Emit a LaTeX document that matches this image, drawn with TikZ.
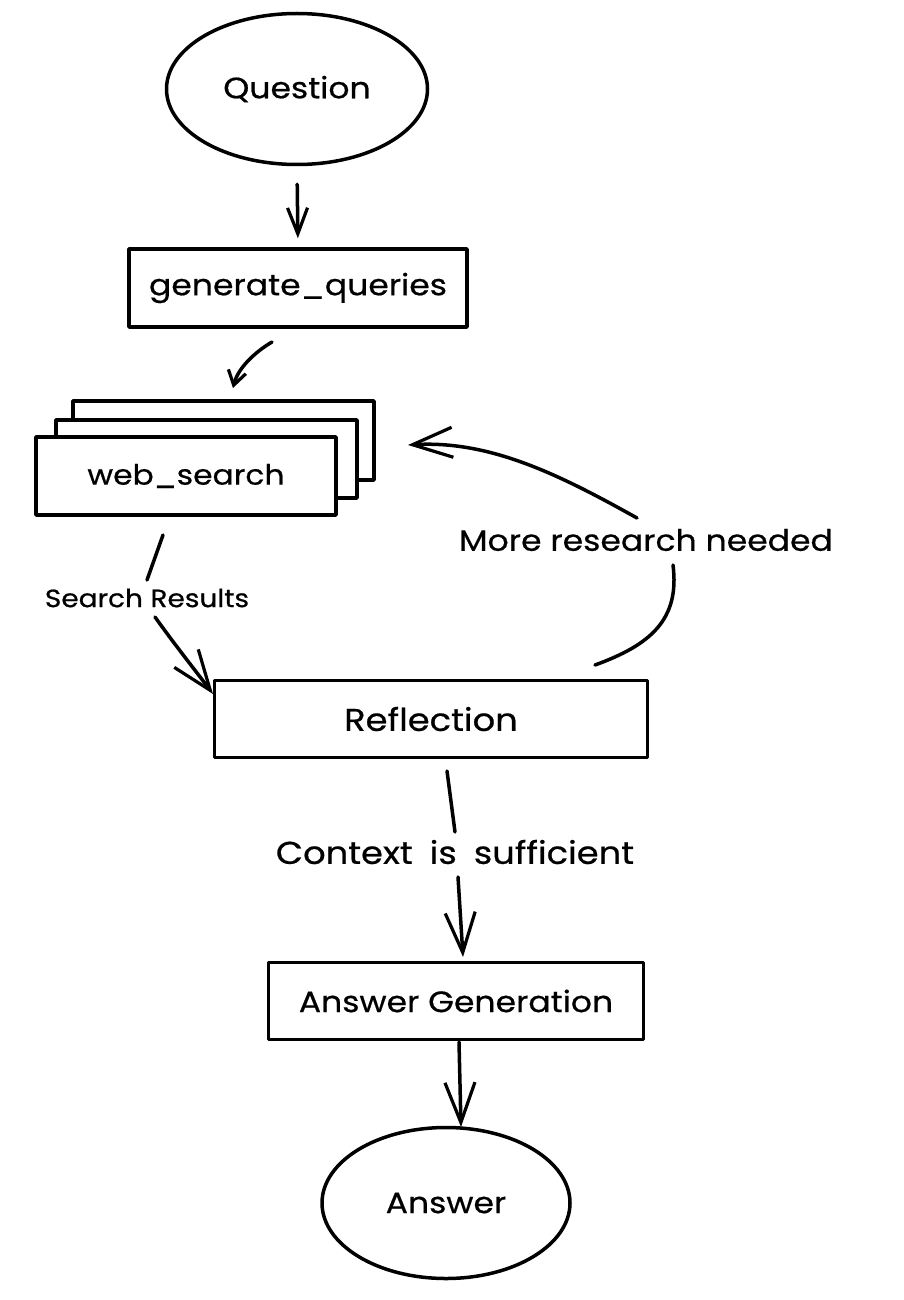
\documentclass[tikz,border=0pt]{standalone}
\usepackage{fontspec}
\setmainfont{Poppins}[FakeStretch=1.12,FakeBold=0.6]
\usetikzlibrary{arrows.meta,shapes.geometric}
\begin{document}
\begin{tikzpicture}[x=1pt,y=-1pt,
  ln/.style={line width=3.5pt, line cap=round, line join=round},
  box/.style={ln, draw, fill=white, rectangle, inner sep=0pt},
  oval/.style={ln, draw, fill=white, ellipse, inner sep=0pt},
  lbl/.style={font=\fontsize{29.5}{34}\selectfont},
  small/.style={font=\fontsize{25}{29}\selectfont},
  arr/.style={ln, -{Straight Barb[length=40pt,width=30pt,line width=3.2pt]}},
  arrs/.style={ln, -{Straight Barb[length=26pt,width=20pt,line width=3.2pt]}},
  arrt/.style={ln, -{Straight Barb[length=14pt,width=18pt,line width=3.2pt]}}]
\useasboundingbox (0,0) rectangle (904,1300);

% nodes
\node[oval, minimum width=261pt, minimum height=151pt, lbl] (q) at (297,89) {Question};
\node[box, minimum width=338pt, minimum height=78pt, lbl] (gq) at (298,288) {generate\_queries};
\node[box, minimum width=301pt, minimum height=79pt] (ws3) at (223.5,440.5) {};
\node[box, minimum width=301pt, minimum height=78pt] (ws2) at (206.5,459) {};
\node[box, minimum width=300pt, minimum height=78pt, font=\fontsize{28}{32}\selectfont] (ws) at (186,476) {web\_search};
\node[box, minimum width=433pt, minimum height=77pt, font=\fontsize{31.5}{36}\selectfont] (refl) at (431,719) {Reflection};
\node[box, minimum width=375pt, minimum height=77pt, lbl] (ag) at (456,1001) {Answer Generation};
\node[oval, minimum width=248pt, minimum height=151pt, lbl] (ans) at (446,1203) {Answer};

% labels
\node[small] (sr) at (147,598) {Search Results};
\node[lbl] (mr) at (646,540) {More research needed};
\node[font=\fontsize{31.5}{36}\selectfont] (cs) at (455,852) {\spaceskip=17pt Context is sufficient};

% connector end points
\coordinate (g1) at (272,342);
\coordinate (g2) at (233,388);
\coordinate (s1) at (163,535);
\coordinate (s2) at (147,580);
\coordinate (s3) at (155,617);
\coordinate (s4) at (213,694);
\coordinate (m1) at (595,665);
\coordinate (m2) at (673,565);
\coordinate (m3) at (637,518);
\coordinate (m4) at (408,445);
\coordinate (c1) at (447,771);
\coordinate (c2) at (455,832);
\coordinate (c3) at (458,877);
\coordinate (c4) at (463,957);
\coordinate (e1) at (459,1042);
\coordinate (e2) at (461,1127);

% connectors
\draw[arrs, shorten <=18pt, shorten >=9pt] (q.south) -- (gq.north);
\draw[arrt] (g1) .. controls (255,352) and (238,368) .. (g2);
\draw[ln] (s1) -- (s2);
\draw[arr] (s3) .. controls (175,645) and (195,670) .. (s4);
\draw[ln] (m1) .. controls (650,645) and (680,620) .. (m2);
\draw[arr] (m3) .. controls (560,475) and (490,440) .. (m4);
\draw[ln] (c1) -- (c2);
\draw[arr] (c3) -- (c4);
\draw[arr] (e1) -- (e2);
\end{tikzpicture}
\end{document}
